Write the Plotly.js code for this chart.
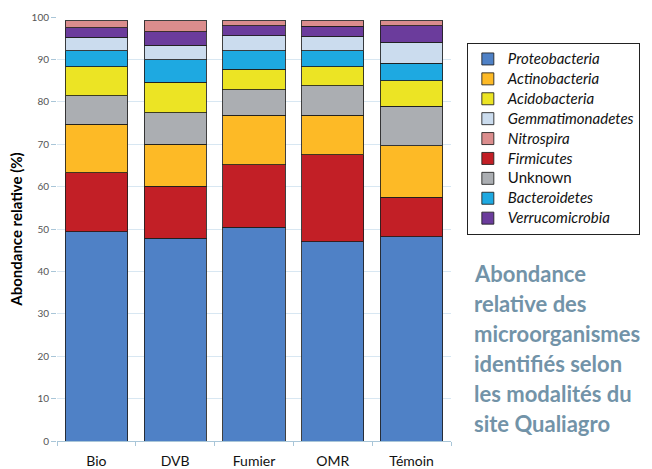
<!DOCTYPE html>
<html>
<head>
<meta charset="utf-8">
<script src="https://cdn.plot.ly/plotly-3.0.1.min.js"></script>
<style>html,body{margin:0;padding:0;background:#fff;}#chart{width:652px;height:469px;}</style>
</head>
<body>
<div id="chart"></div>
<script>
// Categories (modalités)
const categories = ["Bio", "DVB", "Fumier", "OMR", "Témoin"];

// Series values (% relative abundance), stacked bottom to top
const proteobacteria   = [49.4, 47.8, 50.4, 47.0, 48.2];
const firmicutes       = [13.9, 12.3, 14.7, 20.5, 9.3];
const actinobacteria   = [11.4, 9.9, 11.7, 9.3, 12.1];
const unknown          = [6.7, 7.4, 6.1, 7.0, 9.3];
const acidobacteria    = [6.9, 7.2, 4.8, 4.5, 6.1];
const bacteroidetes    = [3.7, 5.3, 4.4, 3.7, 4.1];
const gemmatimonadetes = [3.2, 3.4, 3.5, 3.5, 5.0];
const verrucomicrobia  = [2.3, 3.2, 2.3, 2.3, 3.8];
const nitrospira       = [1.6, 2.6, 1.2, 1.3, 1.2];

const yTicks = [0, 10, 20, 30, 40, 50, 60, 70, 80, 90, 100];

const sideText = ["Abondance", "relative des", "microorganismes", "identifiés selon", "les modalités du", "site Qualiagro"];

// series: [name, values, color, legend rank, italic]
const series = [
  ["Proteobacteria", proteobacteria, "#4f81c6", 1, true],
  ["Firmicutes", firmicutes, "#c21f26", 6, true],
  ["Actinobacteria", actinobacteria, "#fdba26", 2, true],
  ["Unknown", unknown, "#abaeb2", 7, false],
  ["Acidobacteria", acidobacteria, "#ece424", 3, true],
  ["Bacteroidetes", bacteroidetes, "#1ea9e1", 8, true],
  ["Gemmatimonadetes", gemmatimonadetes, "#cbdcee", 4, true],
  ["Verrucomicrobia", verrucomicrobia, "#6b3c9c", 9, true],
  ["Nitrospira", nitrospira, "#db8d8d", 5, true]
];

const traces = series.map(s => ({
  type: "bar",
  x: categories,
  y: s[1],
  name: '<span style="font-size:15px">' + (s[4] ? "<i>" + s[0] + "</i>" : s[0]) + "</span>",
  legendrank: s[3],
  marker: { color: s[2], line: { color: "rgba(30,30,30,0.85)", width: 1 } },
  hoverinfo: "x+y+name"
}));

const mTop = 17, mBottom = 28, mLeft = 57, mRight = 197;
const plotH = 469 - mTop - mBottom;
const plotW = 652 - mLeft - mRight;
const annotations = sideText.map((t, i) => ({
  text: "<b>" + t + "</b>",
  xref: "paper", yref: "paper",
  x: (476 - mLeft) / plotW,
  y: (469 - mBottom - (273 + 30 * i)) / plotH,
  xanchor: "left", yanchor: "middle",
  showarrow: false,
  font: { family: "Lato, 'Open Sans', sans-serif", size: 22, color: "#7293a8" }
}));

const layout = {
  width: 652, height: 469,
  margin: { l: mLeft, r: mRight, t: mTop, b: mBottom, pad: 0 },
  paper_bgcolor: "#ffffff", plot_bgcolor: "#ffffff",
  barmode: "stack",
  bargap: 0.21,
  font: { family: "Lato, 'Open Sans', sans-serif", color: "#000" },
  xaxis: {
    type: "category",
    showline: true, linecolor: "#a9c6d8", linewidth: 1,
    ticks: "outside", tickson: "boundaries", ticklen: 4, tickcolor: "#a9c6d8",
    ticklabelstandoff: 7,
    tickfont: { size: 14, color: "#111" },
    showgrid: false
  },
  yaxis: {
    range: [0, 100],
    tickvals: yTicks,
    ticktext: yTicks.map(String),
    ticks: "outside", ticklen: 5, tickcolor: "#a9c6d8",
    tickfont: { size: 10, color: "#555" },
    showline: false,
    showgrid: true, gridcolor: "#d8e7f2", gridwidth: 1,
    zeroline: false,
    title: { text: "<b>Abondance relative (%)</b>", font: { size: 15, color: "#000" }, standoff: 5 }
  },
  legend: {
    x: (471 - mLeft) / plotW,
    y: (469 - mBottom - 43) / plotH,
    xanchor: "left", yanchor: "top",
    traceorder: "normal",
    bgcolor: "#ffffff", bordercolor: "#222", borderwidth: 1,
    font: { size: 13, color: "#111" }
  },
  annotations: annotations,
  showlegend: true
};

Plotly.newPlot("chart", traces, layout, { displayModeBar: false, staticPlot: true });
</script>
</body>
</html>
